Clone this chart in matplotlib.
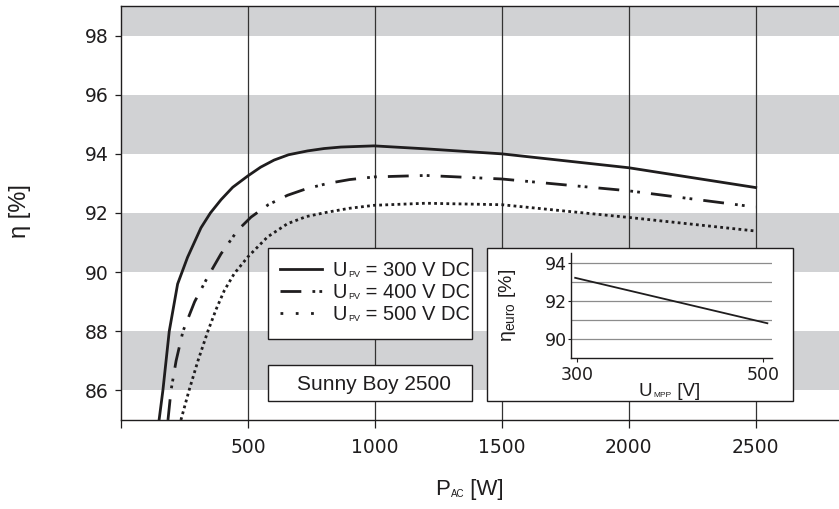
import matplotlib
matplotlib.use('Agg')
import matplotlib.pyplot as plt
from matplotlib.lines import Line2D
from matplotlib.patches import Rectangle
from matplotlib.text import Annotation

TXT = ['Liberation Sans', 'DejaVu Sans']
NUM = ['DejaVu Sans']
plt.rcParams['font.family'] = TXT
plt.rcParams['mathtext.fontset'] = 'custom'
plt.rcParams['mathtext.rm'] = 'Liberation Sans'
plt.rcParams['mathtext.it'] = 'Liberation Sans'

INK = '#1f1d1e'

# efficiency curves (P_AC in W, eta in %)
p_300 = [150, 165, 190, 223, 262, 315, 352, 394, 440, 499, 550, 603, 660, 735, 800, 866, 997, 1200, 1500, 2000, 2500]
eta_300 = [85.0, 86.0, 88.0, 89.6, 90.5, 91.5, 92.0, 92.45, 92.87, 93.25, 93.55, 93.79, 93.97, 94.1, 94.18, 94.23, 94.27, 94.17, 94.0, 93.53, 92.86]

p_400 = [185, 197, 217, 244, 290, 341, 394, 459, 512, 580, 656, 730, 814, 900, 997, 1200, 1500, 2000, 2500]
eta_400 = [85.0, 86.0, 87.0, 88.0, 89.0, 89.83, 90.62, 91.41, 91.86, 92.28, 92.6, 92.82, 93.0, 93.13, 93.22, 93.27, 93.15, 92.75, 92.2]

p_500 = [236, 268, 303, 342, 375, 407, 446, 499, 577, 656, 730, 814, 900, 997, 1200, 1500, 2000, 2500]
eta_500 = [85.0, 86.0, 87.0, 88.0, 88.75, 89.38, 89.95, 90.51, 91.19, 91.64, 91.88, 92.03, 92.16, 92.26, 92.33, 92.28, 91.85, 91.39]

# inset: euro efficiency vs MPP voltage
u_mpp = [298, 505]
eta_euro = [93.2, 90.82]

legend_volts = ['300', '400', '500']

W, H = 839, 509
fig = plt.figure(figsize=(W / 100, H / 100), dpi=100)


def fbox(x0, y0, x1, y1):
    """pixel box (top-left origin) -> figure fraction rect"""
    return [x0 / W, 1 - y1 / H, (x1 - x0) / W, (y1 - y0) / H]


def fx(px):
    return px / W


def fy(py):
    return 1 - py / H


def sub_label(x, y, main, sub, rest, size, subsize):
    """main text + small subscript + rest, chained on one baseline (pixel coords)"""
    t1 = fig.text(fx(x), fy(y), main, fontsize=size, va='baseline', color=INK, zorder=8)
    t2 = Annotation(sub, xy=(1, 0), xycoords=t1, xytext=(0.5, 0.5), textcoords='offset points',
                    fontsize=subsize, va='bottom', ha='left', color=INK, zorder=8)
    fig.add_artist(t2)
    t3 = Annotation(rest, xy=(1, 0), xycoords=(t2, t1), fontsize=size, va='bottom', ha='left',
                    color=INK, zorder=8)
    fig.add_artist(t3)


ax = fig.add_axes(fbox(121, 6, 839, 420))
ax.set_xlim(0, 2828)
ax.set_ylim(85, 99)

# gray bands and vertical grid
for lo, hi in [(86, 88), (90, 92), (94, 96), (98, 99)]:
    ax.axhspan(lo, hi, color='#d1d2d4', lw=0, zorder=0)
for xv in [500, 1000, 1500, 2000, 2500]:
    ax.axvline(xv, color='#333333', lw=0.9, zorder=1)

dashdot2 = (0, (7.5, 4, 1, 1.5, 1, 4))
ax.plot(p_300, eta_300, color=INK, lw=2.0, zorder=3)
ax.plot(p_400, eta_400, color=INK, lw=2.0, ls=dashdot2, zorder=3)
ax.plot(p_500, eta_500, color=INK, lw=2.0, ls=(0, (1, 1.2)), zorder=3)

ax.set_xticks([0, 500, 1000, 1500, 2000, 2500])
ax.set_xticklabels(['', '500', '1000', '1500', '2000', '2500'])
ax.set_yticks([86, 88, 90, 92, 94, 96, 98])
ax.tick_params(labelsize=13.5, length=6, width=0.9, color=INK, labelcolor=INK)
ax.tick_params(axis='x', pad=7)
ax.tick_params(axis='y', length=4, pad=5)
for lab in ax.get_xticklabels() + ax.get_yticklabels():
    lab.set_fontfamily(NUM)
ax.spines['right'].set_visible(False)
for s in ['left', 'bottom', 'top']:
    ax.spines[s].set_linewidth(1.0)
    ax.spines[s].set_color(INK)

fig.text(fx(20), fy(211), 'η [%]', rotation=90, ha='center', va='center',
         fontsize=17, color=INK)
sub_label(435, 495, 'P', 'AC', ' [W]', 16, 7)

# legend box
fig.patches.append(Rectangle((fx(268), fy(339)), 204 / W, 91 / H, transform=fig.transFigure,
                             facecolor='white', edgecolor=INK, lw=1.0, zorder=5))
styles = ['-', (0, (7.5, 4, 1, 1.5, 1, 4)), (0, (1, 4.5))]
for i, (volt, st) in enumerate(zip(legend_volts, styles)):
    base = 276 + i * 22
    mid = base - 7
    fig.add_artist(Line2D([fx(280), fx(322)], [fy(mid), fy(mid)], transform=fig.transFigure,
                          color=INK, lw=2.0, ls=st, zorder=7))
    sub_label(333, base, 'U', 'PV', f' = {volt} V DC', 14.5, 6.5)

# Sunny Boy box
fig.patches.append(Rectangle((fx(268), fy(401)), 204 / W, 36 / H, transform=fig.transFigure,
                             facecolor='white', edgecolor=INK, lw=1.0, zorder=5))
fig.text(fx(374), fy(390), 'Sunny Boy 2500', ha='center', va='baseline',
         fontsize=15, color=INK, zorder=6)

# inset
fig.patches.append(Rectangle((fx(487), fy(401)), 306 / W, 153 / H, transform=fig.transFigure,
                             facecolor='white', edgecolor=INK, lw=1.0, zorder=5))
ins = fig.add_axes(fbox(571, 253, 772, 358))
ins.set_zorder(7)
ins.patch.set_alpha(0)
ins.set_xlim(293.5, 510)
ins.set_ylim(89.0, 94.5)
for yv in [90, 91, 92, 93, 94]:
    ins.axhline(yv, color='#8c8c8c', lw=0.9, zorder=1)
ins.plot(u_mpp, eta_euro, color=INK, lw=1.3, zorder=3)
ins.set_xticks([300, 500])
ins.set_yticks([90, 92, 94])
ins.tick_params(labelsize=12.5, length=3, width=0.8, color=INK, labelcolor=INK)
ins.tick_params(axis='x', pad=3)
ins.tick_params(axis='y', length=2, pad=1)
for lab in ins.get_xticklabels() + ins.get_yticklabels():
    lab.set_fontfamily(NUM)
ins.spines['right'].set_visible(False)
ins.spines['top'].set_visible(False)
for s in ['left', 'bottom']:
    ins.spines[s].set_linewidth(1.0)
    ins.spines[s].set_color(INK)

sub_label(639, 396, 'U', 'MPP', ' [V]', 13.5, 6)
fig.text(fx(508), fy(305), r'η$_{\mathrm{euro}}$ [%]', rotation=90, ha='center', va='center',
         fontsize=14, color=INK, zorder=8)

fig.savefig('out.png', dpi=100)
